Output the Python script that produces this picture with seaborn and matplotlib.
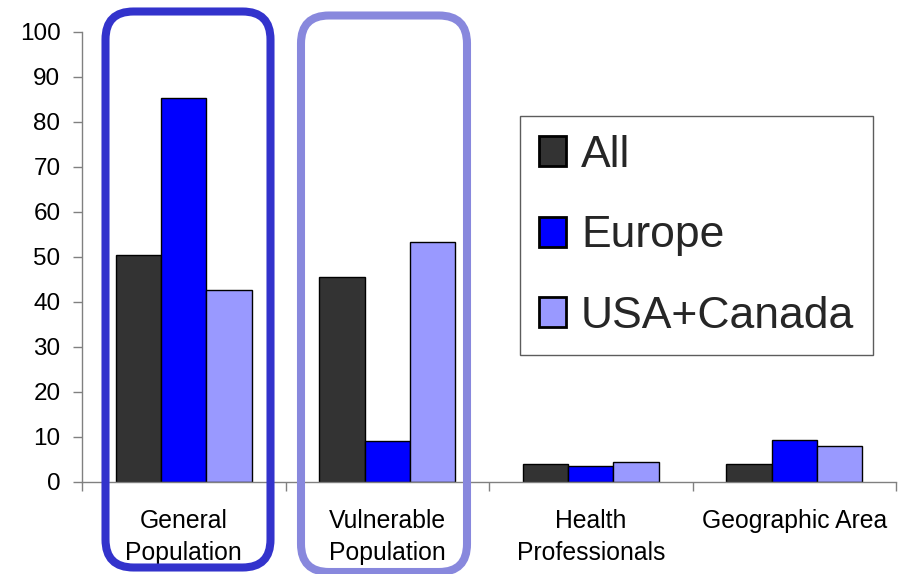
import matplotlib
matplotlib.use("Agg")
import matplotlib.pyplot as plt
from matplotlib.patches import FancyBboxPatch
from matplotlib.transforms import IdentityTransform
from matplotlib.ticker import FixedLocator
import seaborn as sns
import pandas as pd

# Target groups and the share (%) reached in each region
categories = ["General\nPopulation", "Vulnerable\nPopulation",
              "Health\nProfessionals", "Geographic Area"]
regions = ["All", "Europe", "USA+Canada"]
all_vals = [50.3, 45.4, 4.0, 4.0]
europe_vals = [85.2, 9.1, 3.5, 9.2]
usa_canada_vals = [42.6, 53.2, 4.3, 7.8]
y_ticks = list(range(0, 101, 10))

colors = ["#333333", "#0000FF", "#9999FF"]

rows = []
for region, vals in zip(regions, [all_vals, europe_vals, usa_canada_vals]):
    for cat, v in zip(categories, vals):
        rows.append({"category": cat, "region": region, "value": v})
df = pd.DataFrame(rows)

sns.set_theme(style="white")
plt.rcParams["font.family"] = ["Liberation Sans", "DejaVu Sans"]

fig = plt.figure(figsize=(8.99, 5.74), dpi=100)
ax = fig.add_axes([82 / 899, 1 - 481.5 / 574, 814 / 899, 450 / 574])

sns.barplot(data=df, x="category", y="value", hue="region",
            order=categories, hue_order=regions, palette=colors,
            width=0.67, gap=0, edgecolor="black", linewidth=1.0,
            saturation=1, errorbar=None, ax=ax)

ax.set_xlim(-0.5, 3.5)
ax.set_ylim(0, 100)
ax.set_yticks(y_ticks)
ax.set_xlabel("")
ax.set_ylabel("")

for side in ["top", "right"]:
    ax.spines[side].set_visible(False)
for side in ["left", "bottom"]:
    ax.spines[side].set_color("#808080")
    ax.spines[side].set_linewidth(1.0)

ax.tick_params(axis="y", which="major", direction="out", length=6.5,
               width=1.0, color="#808080", pad=9, labelsize=17.5,
               labelcolor="black", left=True)
ax.tick_params(axis="x", which="major", length=0, pad=19.5,
               labelsize=17.8, labelcolor="black")
ax.xaxis.set_minor_locator(FixedLocator([-0.5, 0.5, 1.5, 2.5, 3.5]))
ax.tick_params(axis="x", which="minor", direction="out", length=6.5,
               width=1.0, color="#808080", bottom=True)
for lbl in ax.get_xticklabels():
    lbl.set_linespacing(1.45)

# Legend in a plain square frame
leg = ax.legend(loc="upper left",
                bbox_to_anchor=(520 / 899, 1 - 116 / 574),
                bbox_transform=fig.transFigure,
                fontsize=32, frameon=True, fancybox=False,
                handlelength=0.61, handleheight=0.66, handletextpad=0.34,
                labelspacing=0.89, borderpad=0.42, borderaxespad=0)
leg.get_frame().set_edgecolor("#333333")
leg.get_frame().set_linewidth(1.0)
for h in leg.legend_handles:
    h.set_linewidth(2.0)
    h.set_edgecolor("black")

# Rounded outlines highlighting the two population groups
highlight_boxes = [
    ((105.5, 6.5), 165.0, 556.0, "#3333CC"),
    ((301.0, 2.0), 166.0, 556.5, "#8888DD"),
]
for (x0, y0), w, h, col in highlight_boxes:
    box = FancyBboxPatch((x0, y0), w, h,
                         boxstyle="round,pad=0,rounding_size=28",
                         transform=IdentityTransform(), fill=False,
                         edgecolor=col, linewidth=5.8, zorder=10)
    fig.add_artist(box)

fig.savefig("out.png", dpi=100)
